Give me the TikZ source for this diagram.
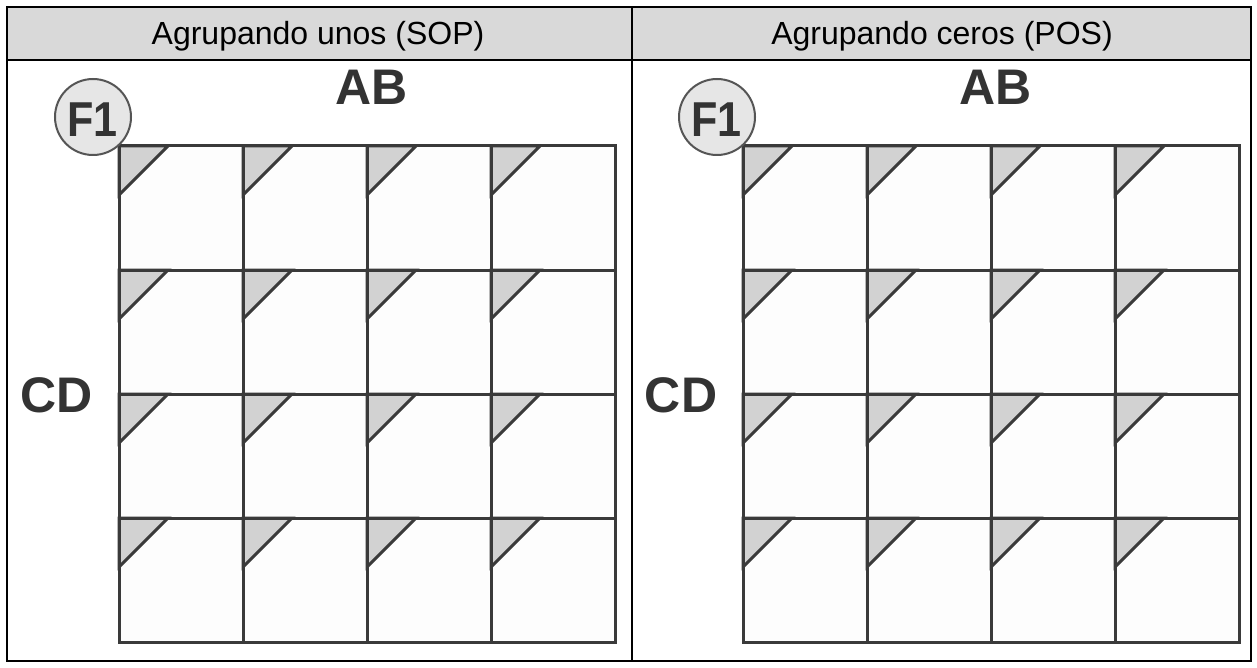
\documentclass[tikz,border=0pt]{standalone}
\usepackage{fontspec}
\setmainfont{Liberation Sans}
\definecolor{hdrgray}{HTML}{D9D9D9}
\definecolor{gridgray}{HTML}{3A3A3A}
\definecolor{cellwhite}{HTML}{FDFDFD}
\definecolor{trigray}{HTML}{D2D2D2}
\definecolor{circfill}{HTML}{E6E6E6}
\definecolor{circline}{HTML}{555555}
\definecolor{labtext}{HTML}{333333}
\begin{document}
\begin{tikzpicture}[x=1pt,y=-1pt,
  frameline/.style={draw=black,line width=2.6pt},
  gridline/.style={draw=gridgray,line width=3pt,line cap=rect},
  tri/.style={fill=trigray,draw=gridgray,line width=3pt,line join=miter},
  hdrtext/.style={font=\fontsize{32}{38}\selectfont,text=black,inner sep=0pt,anchor=base},
  bigl/.style={font=\fontsize{50}{58}\selectfont\bfseries,text=labtext,inner sep=0pt,anchor=base},
  fcirc/.style={circle,draw=circline,fill=circfill,line width=2pt,minimum size=76pt,inner sep=0pt},
  ftext/.style={font=\fontsize{49}{56}\selectfont\bfseries,text=labtext,inner sep=0pt,anchor=base}]
\useasboundingbox (0,0) rectangle (1257,668);
% header
\fill[hdrgray] (7,7) rectangle (1251,60);
\node[hdrtext] (h1) at (318,45) {Agrupando unos (SOP)};
\node[hdrtext] (h2) at (942,45) {Agrupando ceros (POS)};
% grids
\foreach \ox in {119,743}{
  \fill[cellwhite] (\ox,146) rectangle ++(496,496);
  \foreach \i in {0,...,3}{
    \foreach \j in {0,...,3}{
      \path[tri] (\ox+\i*124,146+\j*124) -- ++(49,0) -- ++(-49,49) -- cycle;
    }
  }
  \foreach \k in {0,...,4}{
    \draw[gridline] (\ox+\k*124,146) -- ++(0,496);
    \draw[gridline] (\ox,146+\k*124) -- ++(496,0);
  }
}
% labels
\node[bigl] (ab1) at (371.5,105) {AB};
\node[bigl] (ab2) at (995.5,105) {AB};
\node[bigl] (cd1) at (57,412) {CD};
\node[bigl] (cd2) at (681,412) {CD};
\node[fcirc] (c1) at (93,117) {};
\node[fcirc] (c2) at (717,117) {};
\node[ftext] (f1a) at (92.5,137) {\scalebox{0.88}[1]{F1}};
\node[ftext] (f1b) at (716.5,137) {\scalebox{0.88}[1]{F1}};
% frame
\draw[frameline] (7,7) rectangle (1251,661);
\draw[frameline] (7,60) -- (1251,60);
\draw[frameline] (632,7) -- (632,661);
\end{tikzpicture}
\end{document}
